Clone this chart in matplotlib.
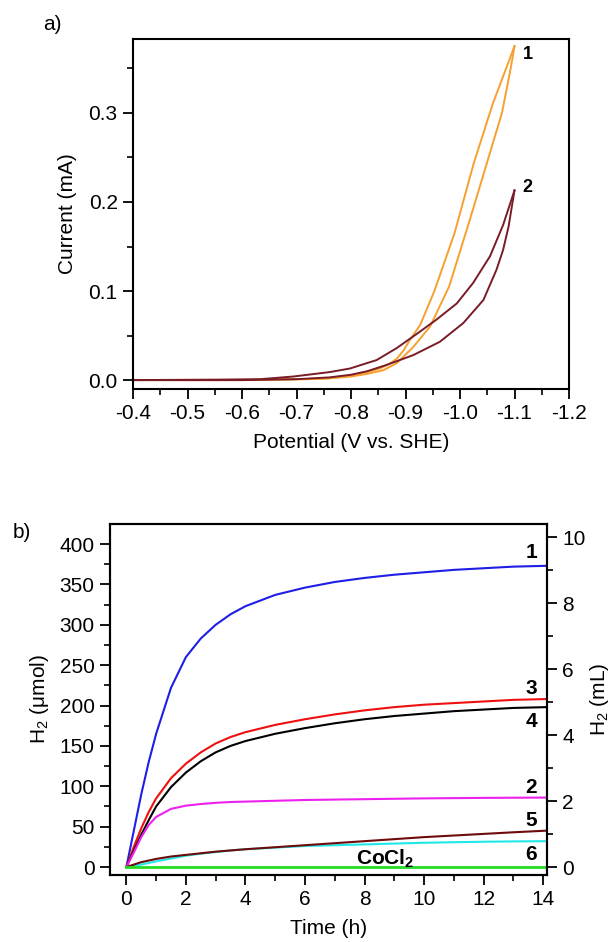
import matplotlib
matplotlib.use("Agg")
import matplotlib.pyplot as plt
from matplotlib.ticker import MultipleLocator, FuncFormatter

plt.rcParams['font.family'] = ['Liberation Sans', 'DejaVu Sans']
plt.rcParams['mathtext.default'] = 'regular'

# ---------------- panel a data (potential V vs SHE, current mA) ----------------
cv1_fwd_v = [-0.40, -0.55, -0.65, -0.72, -0.761, -0.80, -0.83, -0.853, -0.870, -0.884, -0.896, -0.908, -0.927, -0.953, -0.99, -1.025, -1.06, -1.10]
cv1_fwd_i = [0.000, 0.000, 0.0005, 0.001, 0.002, 0.005, 0.009, 0.013, 0.018, 0.024, 0.033, 0.045, 0.062, 0.100, 0.165, 0.243, 0.310, 0.375]
cv1_rev_v = [-1.10, -1.093, -1.077, -1.049, -1.018, -0.98, -0.945, -0.914, -0.884, -0.859, -0.83, -0.80, -0.761, -0.70, -0.60, -0.40]
cv1_rev_i = [0.375, 0.350, 0.300, 0.243, 0.180, 0.105, 0.060, 0.037, 0.019, 0.011, 0.007, 0.004, 0.002, 0.001, 0.000, 0.000]

cv2_up_v = [-0.40, -0.55, -0.633, -0.694, -0.761, -0.798, -0.847, -0.884, -0.921, -0.957, -0.994, -1.024, -1.055, -1.079, -1.10]
cv2_up_i = [0.000, 0.0005, 0.001, 0.004, 0.009, 0.013, 0.0225, 0.036, 0.052, 0.068, 0.086, 0.109, 0.139, 0.174, 0.213]
cv2_lo_v = [-1.10, -1.089, -1.079, -1.067, -1.043, -1.006, -0.963, -0.914, -0.865, -0.83, -0.80, -0.76, -0.70, -0.60, -0.40]
cv2_lo_i = [0.213, 0.172, 0.146, 0.124, 0.090, 0.064, 0.043, 0.028, 0.017, 0.010, 0.006, 0.003, 0.001, 0.000, 0.000]

# ---------------- panel b data (time h, H2 umol) ----------------
t = [0, 0.25, 0.5, 0.75, 1, 1.5, 2, 2.5, 3, 3.5, 4, 5, 6, 7, 8, 9, 10, 11, 12, 13, 14.1]
h2_1 = [0, 45, 90, 130, 165, 222, 260, 283, 300, 313, 323, 337, 346, 353, 358, 362, 365, 368, 370, 372, 373]
h2_3 = [0, 25, 48, 68, 85, 110, 128, 142, 153, 161, 167, 176, 183, 189, 194, 198, 201, 203, 205, 207, 208]
h2_4 = [0, 20, 40, 58, 75, 99, 117, 131, 142, 150, 156, 165, 172, 178, 183, 187, 190, 193, 195, 197, 198]
h2_2 = [0, 18, 37, 52, 62, 72, 76, 78, 79.5, 80.5, 81, 82, 83, 83.5, 84, 84.5, 85, 85.3, 85.6, 85.8, 86]
h2_5 = [0, 3, 6, 8, 10, 13, 15, 17, 19, 20.5, 22, 24.5, 27, 29.5, 32, 34.5, 37, 39, 41, 43, 45]
h2_6 = [0, 1.5, 3, 5, 7, 10.5, 14, 16.5, 18.5, 20.5, 22, 24, 26, 27, 28, 29, 30, 30.7, 31.3, 31.7, 32]
h2_co = [0] * 21
umol_per_ml = 40.87

fig = plt.figure(figsize=(6.16, 9.42), dpi=100)
FS = 15

def style(ax):
    ax.tick_params(which='major', direction='out', length=7, width=1.3, labelsize=FS, pad=4)
    ax.tick_params(which='minor', direction='out', length=4, width=1.2)
    for s in ax.spines.values():
        s.set_linewidth(1.5)

# ---------------- panel a ----------------
ax1 = fig.add_axes([133/616, 1-389/942, 436/616, 350/942])
orange = '#F5A030'
brown = '#7A1C26'
ax1.plot(cv1_fwd_v, cv1_fwd_i, color=orange, lw=1.4)
ax1.plot(cv1_rev_v, cv1_rev_i, color=orange, lw=1.4)
ax1.plot(cv2_up_v, cv2_up_i, color=brown, lw=1.4)
ax1.plot(cv2_lo_v, cv2_lo_i, color=brown, lw=1.4)
ax1.set_xlim(-0.4, -1.2)
ax1.set_ylim(-0.01, 0.383)
ax1.xaxis.set_major_locator(MultipleLocator(0.1))
ax1.xaxis.set_minor_locator(MultipleLocator(0.05))
ax1.yaxis.set_major_locator(MultipleLocator(0.1))
ax1.yaxis.set_minor_locator(MultipleLocator(0.05))
ax1.xaxis.set_major_formatter(FuncFormatter(lambda v, p: f"{v:.1f}"))
ax1.yaxis.set_major_formatter(FuncFormatter(lambda v, p: f"{v:.1f}"))
style(ax1)
ax1.set_xlabel('Potential (V vs. SHE)', fontsize=FS, labelpad=7)
ax1.set_ylabel('Current (mA)', fontsize=FS, labelpad=8)
ax1.text(-1.115, 0.366, '1', fontsize=13, fontweight='bold', ha='left', va='center')
ax1.text(-1.115, 0.216, '2', fontsize=13, fontweight='bold', ha='left', va='center')
fig.text(52/616, 1-24/942, 'a)', fontsize=FS, ha='center', va='center')

# ---------------- panel b ----------------
ax2 = fig.add_axes([110/616, 1-875/942, 437/616, 351/942])
ax2.plot(t, h2_1, color='#1E1EE6', lw=1.5)
ax2.plot(t, h2_3, color='#EE1010', lw=1.5)
ax2.plot(t, h2_4, color='#000000', lw=1.5)
ax2.plot(t, h2_2, color='#EE20EE', lw=1.5)
ax2.plot(t, h2_6, color='#20E8E8', lw=1.5)
ax2.plot(t, h2_5, color='#6E0A0A', lw=1.5)
ax2.plot(t, h2_co, color='#22DD22', lw=2.0)
ax2.set_xlim(-0.55, 14.13)
ax2.set_ylim(-9.9, 424.8)
ax2.xaxis.set_major_locator(MultipleLocator(2))
ax2.xaxis.set_minor_locator(MultipleLocator(1))
ax2.yaxis.set_major_locator(MultipleLocator(50))
ax2.yaxis.set_minor_locator(MultipleLocator(25))
style(ax2)
ax2.set_xlabel('Time (h)', fontsize=FS, labelpad=7)
ax2.set_ylabel('H$_2$ (μmol)', fontsize=FS, labelpad=6)

ax3 = ax2.twinx()
lo, hi = ax2.get_ylim()
ax3.set_ylim(lo/umol_per_ml, hi/umol_per_ml)
ax3.yaxis.set_major_locator(MultipleLocator(2))
ax3.yaxis.set_minor_locator(MultipleLocator(1))
style(ax3)
ax3.set_ylabel('H$_2$ (mL)', fontsize=FS, labelpad=2)

lab_kw = dict(fontsize=15, fontweight='bold', ha='center', va='center')
ax2.text(13.6, 389, '1', **lab_kw)
ax2.text(13.6, 221, '3', **lab_kw)
ax2.text(13.6, 180, '4', **lab_kw)
ax2.text(13.6, 99, '2', **lab_kw)
ax2.text(13.6, 58, '5', **lab_kw)
ax2.text(13.6, 15, '6', **lab_kw)
ax2.text(8.7, 10, 'CoCl$_2$', **lab_kw)
fig.text(22/616, 1-533/942, 'b)', fontsize=FS, ha='center', va='center')

fig.savefig('out.png', dpi=100)
